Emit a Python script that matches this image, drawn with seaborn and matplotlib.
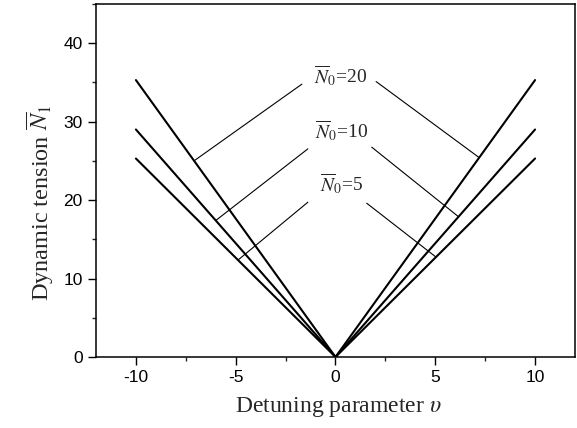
import numpy as np
import pandas as pd
import matplotlib
matplotlib.use("Agg")
import matplotlib.pyplot as plt
from matplotlib.ticker import MultipleLocator
import seaborn as sns

# Detuning parameter and dynamic tension for three static tensions
detuning = [-10, 0, 10]
tension_n20 = [35.3, 0.0, 35.3]
tension_n10 = [29.0, 0.0, 29.0]
tension_n5 = [25.3, 0.0, 25.3]
static_labels = ["20", "10", "5"]

df = pd.concat([
    pd.DataFrame({"nu": detuning, "N1": vals, "N0": lab})
    for vals, lab in zip([tension_n20, tension_n10, tension_n5], static_labels)
])

sns.set_theme(style="ticks")
plt.rcParams["font.family"] = ["Liberation Sans", "DejaVu Sans"]
plt.rcParams["mathtext.fontset"] = "stix"
plt.rcParams["axes.unicode_minus"] = False

fig = plt.figure(figsize=(5.77, 4.28), dpi=100)
ax = fig.add_axes([0.1664, 0.1659, 0.8301, 0.8248])

sns.lineplot(data=df, x="nu", y="N1", units="N0", estimator=None,
             color="black", linewidth=1.5, ax=ax, legend=False, sort=False)

ax.set_xlim(-12, 12)
ax.set_ylim(0, 45)
ax.xaxis.set_major_locator(MultipleLocator(5))
ax.xaxis.set_minor_locator(MultipleLocator(2.5))
ax.yaxis.set_major_locator(MultipleLocator(10))
ax.yaxis.set_minor_locator(MultipleLocator(5))
ax.tick_params(which="major", direction="out", length=5.5, width=1.0,
               labelsize=12.5, colors="black", pad=4)
ax.tick_params(which="minor", direction="out", length=3, width=1.0)
for sp in ax.spines.values():
    sp.set_visible(True)
    sp.set_color("black")
    sp.set_linewidth(1.1)
ax.grid(False)

serif = ["Liberation Serif", "DejaVu Serif"]
ax.set_xlabel(r"Detuning parameter $\upsilon$", fontsize=17, family=serif)
ax.set_ylabel(r"Dynamic tension $\overline{N}_1$", fontsize=17.5, family=serif)
ax.xaxis.label.set_va("center")
ax.yaxis.label.set_va("center")
ax.xaxis.set_label_coords(0.505, -0.142)
ax.yaxis.set_label_coords(-0.115, 0.438)

# Labels and leader lines pointing to both branches of each curve
series = {"20": tension_n20, "10": tension_n10, "5": tension_n5}
label_pos = {"20": (0.25, 35.8), "10": (0.3, 28.8), "5": (0.3, 22.1)}
left_leaders = {"20": ((-1.685, 34.78), -7.085),
                "10": ((-1.385, 26.53), -6.0),
                "5": ((-1.385, 19.73), -4.885)}
right_leaders = {"20": ((2.035, 35.11), 7.2),
                 "10": ((1.815, 26.75), 6.165),
                 "5": ((1.565, 19.6), 5.035)}

for lab in static_labels:
    tx, ty = label_pos[lab]
    ax.text(tx, ty, r"$\overline{N}_0$=" + lab, ha="center", va="center",
            fontsize=14, family=serif)
    for (outer, xin) in (left_leaders[lab], right_leaders[lab]):
        yin = np.interp(xin, detuning, series[lab])
        ax.plot([outer[0], xin], [outer[1], yin], color="black", linewidth=0.8)

fig.savefig("out.png", dpi=100)
